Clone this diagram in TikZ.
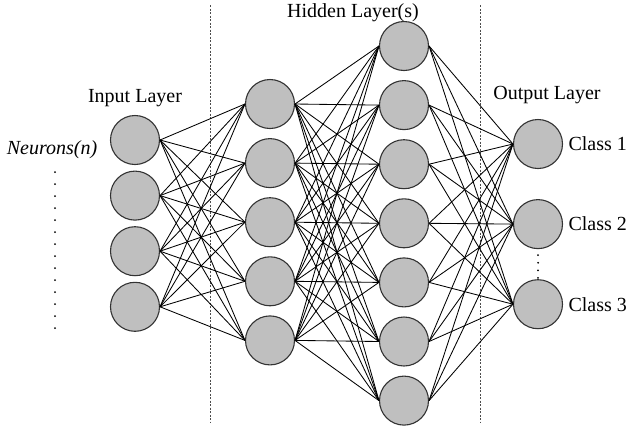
\documentclass[tikz,border=0pt]{standalone}
\usepackage{fontspec}
\setmainfont{Liberation Serif}
\usetikzlibrary{positioning}

\begin{document}
\begin{tikzpicture}[x=1pt, y=-1pt,
	neuron/.style={draw=black!80, circle, fill=black!25, line width=1.1pt, minimum size=49pt, inner sep=0pt},
	wire/.style={line width=0.85pt},
	divider/.style={draw=black!70, line width=0.9pt, dash pattern=on 2pt off 1.5pt},
	dotline/.style={line width=2pt, line cap=round, dash pattern=on 0pt off 12pt},
	layertext/.style={font=\fontsize{20}{24}\selectfont}]

	\useasboundingbox (0,0) rectangle (628,429);

	% dividers between the layers
	\coordinate (d1top) at (210,5);
	\coordinate (d1bot) at (210,423);
	\coordinate (d2top) at (480,5);
	\coordinate (d2bot) at (480,423);
	\draw[divider] (d1top) -- (d1bot);
	\draw[divider] (d2top) -- (d2bot);

	% input layer
	\node[neuron] (in1) at (135,140) {};
	\node[neuron, below=5.5pt of in1] (in2) {};
	\node[neuron, below=5.5pt of in2] (in3) {};
	\node[neuron, below=5.5pt of in3] (in4) {};

	% first hidden layer
	\node[neuron] (ha1) at (270,104) {};
	\node[neuron, below=9pt of ha1] (ha2) {};
	\node[neuron, below=9pt of ha2] (ha3) {};
	\node[neuron, below=9pt of ha3] (ha4) {};
	\node[neuron, below=9pt of ha4] (ha5) {};

	% second hidden layer
	\node[neuron] (hb1) at (404,46) {};
	\node[neuron, below=9pt of hb1] (hb2) {};
	\node[neuron, below=9pt of hb2] (hb3) {};
	\node[neuron, below=9pt of hb3] (hb4) {};
	\node[neuron, below=9pt of hb4] (hb5) {};
	\node[neuron, below=9pt of hb5] (hb6) {};
	\node[neuron, below=9pt of hb6] (hb7) {};

	% output layer
	\node[neuron] (out1) at (538,144) {};
	\node[neuron, below=30pt of out1] (out2) {};
	\node[neuron, below=30pt of out2] (out3) {};

	% connections
	\foreach \a in {1,...,4}
		\foreach \b in {1,...,5}
			\draw[wire] (in\a.east) -- (ha\b.west);
	\foreach \a in {1,...,5}
		\foreach \b in {1,...,7}
			\draw[wire] (ha\a.east) -- (hb\b.west);
	\foreach \a in {1,...,7}
		\foreach \b in {1,...,3}
			\draw[wire] (hb\a.east) -- (out\b.west);

	% texts
	\node[layertext] (inlbl) at (135,98) {Input Layer};
	\node[layertext] (hidlbl) at (353,13) {Hidden Layer(s)};
	\node[layertext] (outlbl) at (547,95) {Output Layer};
	\node[layertext, font=\fontsize{20}{24}\selectfont\itshape] (neulbl) at (52,150) {Neurons(n)};

	\node[layertext, right=2pt of out1] (cls1) {Class 1};
	\node[layertext, right=2pt of out2] (cls2) {Class 2};
	\node[layertext, right=2pt of out3] (cls3) {Class 3};

	% dotted lines
	\coordinate (ntop) at (55,172);
	\coordinate (nbot) at (55,330);
	\draw[dotline] (ntop) -- (nbot);
	\draw[line width=2pt, line cap=round, dash pattern=on 0pt off 7.6pt, shorten <=6pt] (out2.south) -- (out3.north);

\end{tikzpicture}
\end{document}
